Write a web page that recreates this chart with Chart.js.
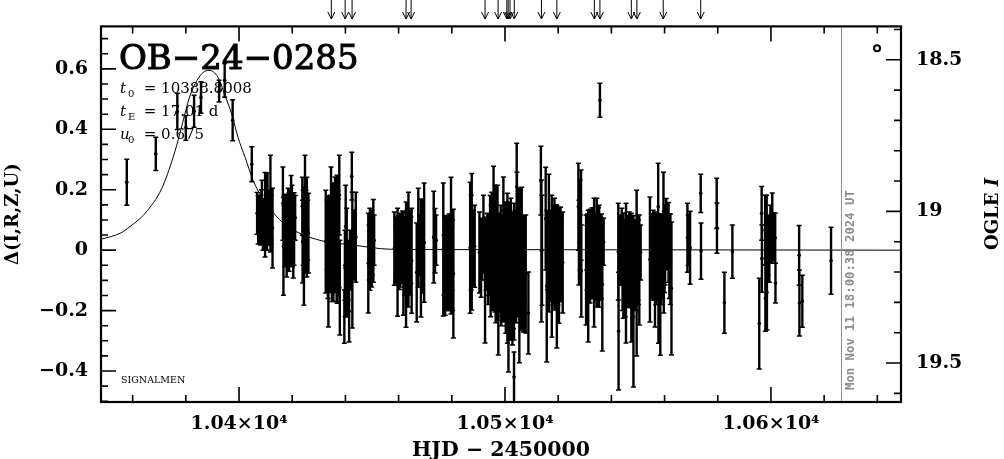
<!DOCTYPE html>
<html>
<head>
<meta charset="utf-8">
<title>OB-24-0285</title>
<script src="https://cdn.jsdelivr.net/npm/chart.js@4"></script>
<style>
  html, body { margin: 0; padding: 0; background: #fff; }
  #wrap { width: 1004px; height: 459px; }
</style>
</head>
<body>
<div id="wrap"><canvas id="myChart" width="1004" height="459"></canvas></div>
<script>
const hjd = [
  10357.8, 10368.7, 10376.8, 10380, 10383.1, 10385.7, 10392.5, 10394.6, 10397.6, 10404.8,
  10406.8, 10407.5, 10408.1, 10408.6, 10409.2, 10409.8, 10410.2, 10410.7, 10411.3, 10411.8, 10412.2, 10412.6,
  10416.5, 10416.7, 10417.3, 10417.9, 10418.2, 10418.5, 10419, 10419.6, 10419.9, 10420.4, 10421.1,
  10423.8, 10423.9, 10424.1, 10424.4, 10424.6, 10424.8, 10425.2, 10425.5, 10425.8, 10426.1,
  10432.6, 10433.1, 10433.6, 10434, 10434.4, 10434.6, 10435, 10435.2, 10435.7, 10436.1, 10436.5, 10436.9, 10437.2, 10437.7, 10437.9,
  10439.6, 10439.8, 10440.1, 10440.5, 10441, 10441.4, 10441.7, 10442.4, 10442.6, 10443.2, 10443.9,
  10448.6, 10448.9, 10449.2, 10449.5, 10449.9, 10450.2, 10450.5, 10450.8,
  10458.4, 10458.9, 10459.6, 10460, 10460.6, 10461.1, 10461.8, 10462.2, 10462.8, 10463.2, 10463.7, 10464.3, 10464.9,
  10466.8, 10467.4, 10467.9, 10468.4, 10469, 10469.6,
  10473.2, 10473.7, 10474.1,
  10476.8, 10477.1, 10477.5, 10478.1, 10478.6, 10479.2, 10479.7, 10480.1, 10480.6,
  10486.9, 10487.3, 10487.5, 10488, 10488.6,
  10490.4, 10491, 10491.4, 10491.9, 10492.5, 10492.9, 10493.4, 10493.8, 10494.4, 10494.8, 10495, 10495.7, 10496, 10496.3, 10496.7,
  10497.2, 10497.5, 10498, 10498.4, 10498.9, 10499.4, 10499.8, 10500.3, 10500.6, 10500.9, 10501.3, 10501.7, 10502.2, 10502.5, 10502.8,
  10503.4, 10503.4, 10503.8, 10504.4, 10504.5, 10504.9, 10505.4, 10505.8, 10506.3, 10506.9, 10507.3, 10507.8, 10508.8,
  10513.5, 10513.7, 10513.9,
  10515.3, 10515.7, 10516, 10516.5, 10517.1, 10517.6, 10518, 10518.6, 10519, 10519.5, 10519.9, 10520.3, 10520.9, 10521.7,
  10527.6, 10527.8, 10528.2, 10528.6, 10528.7,
  10530.5, 10530.8, 10531.3, 10532, 10532.5, 10533.1, 10533.5, 10534, 10534.5, 10535, 10535.4, 10535.7, 10536, 10536.6, 10537.1,
  10542.6, 10542.7, 10543.3, 10543.9, 10544.5, 10545, 10545.5, 10546.1, 10546.7, 10547, 10547.5, 10548, 10548.3, 10548.9, 10549.5, 10550, 10550.5, 10551,
  10554.5, 10555.1, 10555.7, 10556.4, 10557, 10557.6, 10557.7, 10558.4, 10558.9, 10559.6, 10559.7, 10560.2, 10560.6, 10561, 10561.5, 10562.6,
  10568.6, 10568.9, 10569.6, 10573.6, 10573.7, 10579.6, 10579.7, 10582.5, 10585.5,
  10595.6, 10596.5, 10596.6, 10597.8, 10597.9, 10598.4, 10598.5, 10598.9, 10599.4, 10599.8, 10600.2, 10600.5, 10600.9, 10601.6, 10601.7,
  10610.6, 10610.7, 10611.8, 10622.6,
  // inside the solid black bands
  10407.2, 10407.8, 10408.4, 10409, 10409.5, 10410.5, 10411, 10411.5,
  10417.1, 10417.6, 10418.8, 10419.3, 10420.1, 10420.7,
  10433.4, 10434.2, 10434.9, 10435.5, 10436.3, 10436.7, 10437.4,
  10459, 10460.3, 10461.5, 10462.5, 10463.5, 10464.6,
  10477.3, 10477.8, 10478.4, 10479, 10479.4, 10480.3,
  10493.6, 10494.6, 10495.4, 10496.5, 10497.6, 10498.6, 10499.6, 10500.4, 10501.5, 10502.4, 10503.2, 10504.2, 10505, 10506, 10507,
  10516.3, 10517.3, 10518.3, 10519.3, 10520.1, 10521,
  10531, 10531.7, 10532.3, 10532.8, 10533.8, 10534.3, 10534.8, 10535.2, 10536.3,
  10544.2, 10545.2, 10546.4, 10547.2, 10548.1, 10549.2, 10550.2,
  10555.4, 10556, 10556.7, 10557.3, 10558.1, 10558.7, 10559.3, 10560, 10561.8, 10562.2
];
const delta = [
  .225, .319, .459, .405, .46, .505, .526, .562, .43, .284,
  .122, .119, .083, .137, .099, .117, .091, .149, .107, .154, .107, .073,
  .154, .013, .074, .043, .074, .081, .107, .102, .099, .045, .107,
  .145, .028, .074, .013, .058, .119, .066, .076, .066, .056,
  .028, .05, -.061, .033, .066, .093, .05, .05, .033, .063, .066, .036, .05, .182, -.124,
  -.22, -.05, .078, -.041, -.066, -.202, -.033, .245, -.033, .017, .043,
  -.043, -.008, .003, -.008, .005, .017, .031, .033,
  .005, 0, -.04, .008, 0, .008, -.045, -.025, -.048, 0, .002, -.008, -.035,
  -.074, .041, .017, -.026, .012, .025,
  .043, .031, .033,
  .002, -.05, -.05, -.04, -.041, -.017, .015, -.025, -.078,
  .008, .025, .028, .008, .013,
  -.008, -.025, -.008, .053, -.099, -.025, .015, -.025, .021, .017, .03, .068, -.017, .005, -.017,
  -.008, -.112, -.033, -.028, -.033, .002, -.017, -.058, -.041, -.06, -.122, -.058, -.063, -.041, -.094,
  -.42, -.071, -.041, .21, .051, -.041, -.084, -.025, -.028, -.081, -.025, -.079, -.208,
  .23, -.003, 0,
  .104, -.119, -.008, .023, -.017, -.053, -.017, -.013, -.025, -.088, -.033, -.05, -.012, -.041,
  .144, .025, .083, .116, -.069,
  -.066, -.025, -.086, -.02, -.033, -.017, -.041, -.025, -.008, -.025, -.02, .496, -.028, -.114, .028,
  -.005, -.268, 0, .023, -.051, -.025, -.076, -.017, -.031, -.033, -.091, -.033, -.169, -.025, -.076, -.025, -.066, -.008,
  -.031, -.008, -.017, -.064, -.033, .144, -.121, -.136, -.033, .129, -.063, .017, .064, .041, .026, -.127,
  .041, .033, .008, .188, -.003, .155, .073, -.174, -.005,
  -.243, .122, -.028, .066, -.159, .071, -.14, .017, -.012, .055, .04, .073, .045, .04, -.109,
  -.017, -.175, -.169, -.035,
  // inside the solid black bands
  .1, .09, .11, .08, .1, .09, .11, .1,
  .065, .07, .06, .07, .055, .07,
  .01, .02, 0, .01, .02, 0, .01,
  0, -.01, .01, 0, -.01, 0,
  -.04, -.03, -.05, -.04, -.03, -.05,
  -.03, -.05, -.04, -.06, -.05, -.07, -.04, -.06, -.08, -.05, -.07, -.06, -.05, -.07, -.06,
  -.02, -.03, -.02, -.01, -.02, -.03,
  -.02, -.03, -.02, -.01, -.02, -.03, -.02, -.01, -.02,
  -.05, -.06, -.04, -.05, -.06, -.05, -.04,
  -.02, -.01, -.03, -.02, -.01, -.03, -.02, -.01, -.02, -.03
];
const sigma = [
  .076, .055, .06, .041, .053, .052, .036, .056, .068, .058,
  .069, .063, .066, .094, .066, .14, .091, .106, .091, .16, .074, .132,
  .121, .162, .091, .132, .074, .124, .091, .145, .116, .137, .074,
  .096, .137, .124, .195, .124, .195, .132, .165, .099, .132,
  .17, .116, .193, .116, .116, .182, .149, .172, .132, .179, .149, .212, .149, .132, .157,
  .088, .116, .137, .18, .099, .102, .099, .079, .225, .116, .149,
  .165, .091, .136, .107, .127, .099, .137, .083,
  .121, .083, .179, .107, .122, .107, .17, .124, .207, .132, .19, .14, .174,
  .164, .164, .099, .195, .154, .197,
  .152, .107, .083,
  .22, .099, .165, .149, .124, .132, .226, .107, .213,
  .217, .157, .226, .124, .136,
  .134, .131, .091, .129, .208, .107, .107, .124, .16, .132, .162, .21, .149, .21, .132,
  .223, .235, .132, .177, .149, .24, .149, .217, .157, .248, .281, .174, .235, .157, .22,
  .083, .226, .174, .144, .207, .157, .289, .157, .236, .19, .14, .195, .136,
  .114, .235, .182,
  .17, .251, .124, .228, .149, .235, .165, .185, .14, .236, .149, .192, .154, .167,
  .144, .14, .149, .149, .152,
  .182, .107, .218, .155, .116, .116, .213, .14, .18, .14, .169, .056, .137, .22, .078,
  .16, .195, .116, .116, .174, .107, .231, .132, .157, .132, .213, .132, .284, .124, .274, .14, .182, .091,
  .207, .124, .149, .19, .132, .144, .187, .212, .116, .129, .145, .132, .107, .107, .132, .22,
  .114, .083, .121, .063, .093, .083, .083, .101, .088,
  .15, .089, .111, .116, .109, .111, .124, .099, .094, .094, .083, .116, .078, .083, .066,
  .099, .109, .086, .111,
  // inside the solid black bands
  .08, .07, .09, .08, .07, .09, .08, .07,
  .12, .11, .13, .12, .11, .12,
  .17, .16, .17, .18, .16, .17, .16,
  .11, .12, .12, .11, .12, .11,
  .15, .14, .15, .16, .14, .15,
  .15, .17, .16, .18, .17, .18, .17, .19, .18, .17, .19, .18, .17, .17, .16,
  .15, .14, .15, .16, .15, .14,
  .14, .13, .14, .15, .14, .13, .14, .15, .14,
  .15, .16, .15, .14, .16, .15, .14,
  .14, .13, .15, .14, .13, .15, .14, .13, .14, .15
];

// the model curve
const modelHjd = [10348.1, 10355.3, 10359, 10362, 10364.7, 10371, 10375.2, 10377.8, 10379.7, 10381.6, 10384.2, 10386.5, 10388.7, 10392.1, 10394.7, 10397.4, 10399.6, 10402.3, 10405.3, 10408.6, 10416.2, 10421.8, 10431.6, 10442.9, 10456.8, 10471.8, 10648.9];
const modelDelta = [.036, .056, .078, .099, .122, .205, .307, .387, .453, .512, .562, .588, .595, .572, .512, .446, .374, .307, .231, .175, .093, .06, .03, .017, .003, .002, 0];

// arrows above the frame, open circle top right, grey "now" line
const arrowHjd = [10434.7, 10439.9, 10442.5, 10462.8, 10464.7, 10492.5, 10497.4, 10500.7, 10501.2, 10501.9, 10503.5, 10513.7, 10519.5, 10533.6, 10535.7, 10547.5, 10549.6, 10559.5, 10573.6];
const circleHjd = [10639.9];
const circleDelta = [.668];
const nowHjd = 10626.5;

// ticks
const xTicks = [10360, 10380, 10400, 10420, 10440, 10460, 10480, 10500, 10520, 10540, 10560, 10580, 10600, 10620, 10640];
const xLabels = { 10400: "1.04×10⁴", 10500: "1.05×10⁴", 10600: "1.06×10⁴" };
const yTicks = [-.5, -.45, -.4, -.35, -.3, -.25, -.2, -.15, -.1, -.05, 0, .05, .1, .15, .2, .25, .3, .35, .4, .45, .5, .55, .6, .65, .7];
const yLabels = { "-0.4": "−0.4", "-0.2": "−0.2", "0": "0", "0.2": "0.2", "0.4": "0.4", "0.6": "0.6" };
const magTicks = [18.4, 18.5, 18.6, 18.7, 18.8, 18.9, 19, 19.1, 19.2, 19.3, 19.4, 19.5, 19.6];
const magLabels = { "18.5": "18.5", "19": "19", "19.5": "19.5" };

const FONT = "'DejaVu Serif', serif";

const stems = [];
const capsHi = [];
const capsLo = [];
const centers = [];
for (let i = 0; i < hjd.length; i++) {
  stems.push({ x: hjd[i], y: delta[i] - sigma[i] }, { x: hjd[i], y: delta[i] + sigma[i] }, { x: hjd[i], y: null });
  capsHi.push({ x: hjd[i], y: delta[i] + sigma[i] });
  capsLo.push({ x: hjd[i], y: delta[i] - sigma[i] });
  centers.push({ x: hjd[i], y: delta[i] });
}

// frame, inward ticks, arrows and the loose text
const decorations = {
  id: "decorations",
  afterDraw(chart) {
    const ctx = chart.ctx;
    const a = chart.chartArea;
    const x = chart.scales.x, y = chart.scales.y, mag = chart.scales.mag;
    ctx.save();

    // grey line
    const nowX = Math.round(x.getPixelForValue(nowHjd)) + .5;
    ctx.strokeStyle = "#8c8c8c";
    ctx.lineWidth = 1;
    ctx.beginPath();
    ctx.moveTo(nowX, a.top);
    ctx.lineTo(nowX, a.bottom);
    ctx.stroke();

    ctx.strokeStyle = "#000";
    ctx.lineWidth = 1.6;
    ctx.beginPath();
    xTicks.forEach((v) => {
      const px = x.getPixelForValue(v);
      const len = xLabels[v] ? 15 : 7;
      ctx.moveTo(px, a.bottom); ctx.lineTo(px, a.bottom - len);
      ctx.moveTo(px, a.top); ctx.lineTo(px, a.top + len);
    });
    yTicks.forEach((v) => {
      const py = y.getPixelForValue(v);
      const len = yLabels[String(Math.round(v * 100) / 100)] ? 15 : 7;
      ctx.moveTo(a.left, py); ctx.lineTo(a.left + len, py);
    });
    magTicks.forEach((v) => {
      const py = mag.getPixelForValue(v);
      const len = magLabels[String(v)] ? 15 : 7;
      ctx.moveTo(a.right, py); ctx.lineTo(a.right - len, py);
    });
    ctx.stroke();

    ctx.lineWidth = 2.2;
    ctx.strokeRect(a.left, a.top, a.right - a.left, a.bottom - a.top);

    // arrows
    ctx.lineWidth = 1;
    arrowHjd.forEach((t) => {
      const px = x.getPixelForValue(t);
      ctx.beginPath();
      ctx.moveTo(px, 0); ctx.lineTo(px, 19);
      ctx.moveTo(px - 3.5, 12); ctx.lineTo(px, 19); ctx.lineTo(px + 3.5, 12);
      ctx.stroke();
    });

    // text
    ctx.fillStyle = "#000";
    ctx.textBaseline = "alphabetic";
    ctx.textAlign = "left";
    ctx.font = "34px " + FONT;
    ctx.lineWidth = 1;
    ctx.fillText("OB−24−0285", 119, 69);
    ctx.strokeText("OB−24−0285", 119, 69);

    const params = [["t", "0", " = 10388.8008", 93], ["t", "E", " = 17.01 d", 116], ["u", "0", " = 0.675", 139]];
    params.forEach((p) => {
      ctx.font = "italic 15px " + FONT;
      ctx.fillText(p[0], 120, p[3]);
      ctx.font = "10px " + FONT;
      ctx.fillText(p[1], 128, p[3] + 4);
      ctx.font = "15px " + FONT;
      ctx.fillText(p[2], 139, p[3]);
    });

    ctx.font = "9.5px " + FONT;
    ctx.fillText("SIGNALMEN", 121, 383);

    // stamp, reads upward along the grey line
    ctx.save();
    ctx.translate(854, 390);
    ctx.rotate(-Math.PI / 2);
    ctx.fillStyle = "#8c8c8c";
    ctx.font = "bold 12.3px 'DejaVu Sans Mono', monospace";
    ctx.fillText("Mon Nov 11 18:00:38 2024 UT", 0, 0);
    ctx.restore();

    // right axis title, reads upward
    ctx.save();
    ctx.translate(998, 250);
    ctx.rotate(-Math.PI / 2);
    ctx.font = "bold 18px " + FONT;
    ctx.fillText("OGLE ", 0, 0);
    const w = ctx.measureText("OGLE ").width;
    ctx.font = "italic bold 18px " + FONT;
    ctx.fillText("I", w, 0);
    ctx.restore();

    ctx.restore();
  }
};

const tickFont = { family: FONT, size: 19, weight: "bold" };

const ctx = document.getElementById("myChart");
const myChart = new Chart(ctx, {
  type: "scatter",
  data: {
    datasets: [
      { data: stems, showLine: true, spanGaps: false, borderColor: "#000", borderWidth: 2.4, pointRadius: 0 },
      { data: capsHi, pointStyle: "line", pointRadius: 2.5, borderColor: "#000", pointBorderWidth: 1.5, backgroundColor: "#000" },
      { data: capsLo, pointStyle: "line", pointRadius: 2.5, borderColor: "#000", pointBorderWidth: 1.5, backgroundColor: "#000" },
      { data: centers, pointStyle: "circle", pointRadius: 1.8, borderColor: "#000", backgroundColor: "#000", pointBorderWidth: 0 },
      {
        data: modelHjd.map((t, i) => ({ x: t, y: modelDelta[i] })),
        showLine: true, borderColor: "#000", borderWidth: 1, pointRadius: 0, cubicInterpolationMode: "monotone"
      },
      {
        data: circleHjd.map((t, i) => ({ x: t, y: circleDelta[i] })),
        pointStyle: "circle", pointRadius: 3, pointBorderWidth: 2, borderColor: "#000", backgroundColor: "#fff"
      }
    ]
  },
  options: {
    responsive: false,
    animation: false,
    devicePixelRatio: 1,
    layout: { padding: { top: 26, left: 0, right: 0, bottom: 0 } },
    plugins: { legend: { display: false }, title: { display: false }, tooltip: { enabled: false } },
    scales: {
      x: {
        type: "linear",
        min: 10348.1,
        max: 10648.9,
        afterBuildTicks: (axis) => { axis.ticks = xTicks.map((v) => ({ value: v })); },
        afterFit: (axis) => { axis.height = 57; },
        grid: { display: false, drawTicks: false },
        border: { display: false },
        ticks: {
          autoSkip: false, maxRotation: 0, padding: 11, color: "#000", font: tickFont,
          callback: (v) => xLabels[v] || ""
        },
        title: {
          display: true, text: "HJD − 2450000", color: "#000",
          font: { family: FONT, size: 20.5, weight: "bold", lineHeight: .8 }, padding: { top: 0, bottom: 0 }
        }
      },
      y: {
        position: "left",
        min: -.5025,
        max: .7405,
        afterBuildTicks: (axis) => { axis.ticks = yTicks.map((v) => ({ value: v })); },
        afterFit: (axis) => { axis.width = 101; },
        grid: { display: false, drawTicks: false },
        border: { display: false },
        ticks: {
          autoSkip: false, padding: 13, color: "#000", font: tickFont,
          callback: (v) => yLabels[String(Math.round(v * 100) / 100)] || ""
        },
        title: {
          display: true, text: "Δ(I,R,Z,U)", color: "#000",
          font: { family: FONT, size: 18, weight: "bold", lineHeight: 1.5 }, padding: { top: 0, bottom: 0 }
        }
      },
      mag: {
        position: "right",
        reverse: true,
        min: 18.39,
        max: 19.6285,
        afterBuildTicks: (axis) => { axis.ticks = magTicks.map((v) => ({ value: v })); },
        afterFit: (axis) => { axis.width = 103; },
        grid: { display: false, drawTicks: false },
        border: { display: false },
        ticks: {
          autoSkip: false, padding: 15, color: "#000", font: tickFont,
          callback: (v) => magLabels[String(v)] || ""
        }
      }
    }
  },
  plugins: [decorations]
});
</script>
</body>
</html>
